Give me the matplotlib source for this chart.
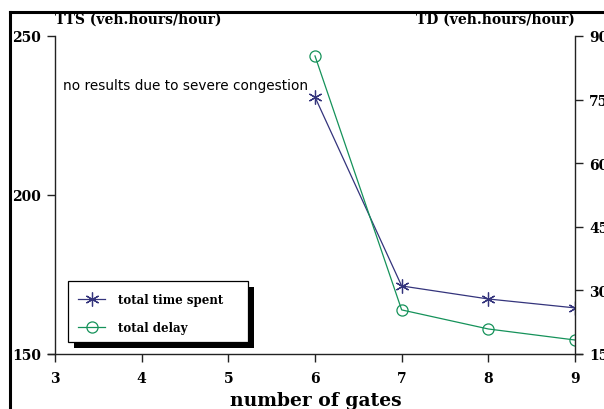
import matplotlib
matplotlib.use("Agg")
import matplotlib.pyplot as plt
from matplotlib.lines import Line2D
from matplotlib.patches import Rectangle

gates = [6, 7, 8, 9]
tts = [230.8, 171.4, 167.3, 164.5]
td = [85.3, 25.4, 20.9, 18.3]
x_ticks = [3, 4, 5, 6, 7, 8, 9]
tts_ticks = [150, 200, 250]
td_ticks = [15, 30, 45, 60, 75, 90]

blue = "#34347c"
green = "#15925a"
serif = "DejaVu Serif"

fig = plt.figure(figsize=(6.04, 4.10), dpi=100)
ax = fig.add_axes([55 / 604, 55 / 410, 520 / 604, 318 / 410])
ax2 = ax.twinx()

l1, = ax.plot(gates, tts, color=blue, lw=0.9, marker=(6, 2, 0), ms=10, mew=0.9,
              label="total time spent")
l2, = ax2.plot(gates, td, color=green, lw=0.9, marker="o", ms=8,
               mfc="none", mec=green, mew=0.9, label="total delay")

ax.set_xlim(3, 9)
ax.set_ylim(150, 250)
ax2.set_ylim(15, 90)
ax.set_xticks(x_ticks)
ax.set_yticks(tts_ticks)
ax2.set_yticks(td_ticks)

for a in (ax, ax2):
    a.patch.set_visible(False)
    a.spines["top"].set_visible(False)
    for s in a.spines.values():
        s.set_linewidth(1.0)
        s.set_color("#222222")
ax.spines["right"].set_visible(False)
ax2.spines["left"].set_visible(False)
ax2.spines["bottom"].set_visible(False)
ax.spines["bottom"].set_bounds(2.92, 9.08)

tick_font = dict(family=serif, weight="bold", size=10)
ax.tick_params(axis="both", direction="out", length=6, width=1, color="#222222", pad=4)
ax2.tick_params(axis="y", direction="out", length=6, width=1, color="#222222", pad=4)
ax.tick_params(axis="x", pad=6)
for lab in ax.get_xticklabels() + ax.get_yticklabels() + ax2.get_yticklabels():
    lab.set_fontproperties(tick_font)

fig.text(55 / 604, 1 - 20 / 410, "TTS (veh.hours/hour)", family=serif,
         weight="bold", size=10, ha="left", va="center")
fig.text(575 / 604, 1 - 20 / 410, "TD (veh.hours/hour)", family=serif,
         weight="bold", size=10, ha="right", va="center")
fig.text(316 / 604, 1 - 401 / 410, "number of gates", family=serif,
         weight="bold", size=13.5, ha="center", va="center")

ax.text((63 - 55) / 520, (355 - 86) / 318,
        "no results due to severe congestion", transform=ax.transAxes,
        family="DejaVu Sans", size=9.8, ha="left", va="center")

# legend: box + black drop shadow drawn by hand, entries from legend()
bx0, bx1 = 13 / 520, 193 / 520
by0, by1 = 12 / 318, 73 / 318
sx, sy = 6 / 520, 6 / 318
ax2.add_patch(Rectangle((bx0 + sx, by0 - sy), bx1 - bx0, by1 - by0,
                        transform=ax2.transAxes, facecolor="black",
                        edgecolor="none", zorder=9, clip_on=False))
ax2.add_patch(Rectangle((bx0, by0), bx1 - bx0, by1 - by0,
                        transform=ax2.transAxes, facecolor="white",
                        edgecolor="black", lw=0.9, zorder=9.5, clip_on=False))

leg = ax2.legend(handles=[l1, l2], loc="upper left",
                 bbox_to_anchor=(23 / 520, (355 - 294) / 318),
                 prop=dict(family=serif, weight="bold", size=8.5),
                 frameon=False, borderpad=0, labelspacing=1.25,
                 handlelength=2.3, handletextpad=1.1, borderaxespad=0)
leg.set_zorder(10)

# outer frame lines
fig.add_artist(Line2D([10 / 604, 10 / 604], [0, 1 - 13 / 410], color="black",
                      lw=2.2, transform=fig.transFigure))
fig.add_artist(Line2D([10 / 604, 1], [1 - 13 / 410, 1 - 13 / 410], color="black",
                      lw=2.2, transform=fig.transFigure))

fig.savefig("out.png", dpi=100)
